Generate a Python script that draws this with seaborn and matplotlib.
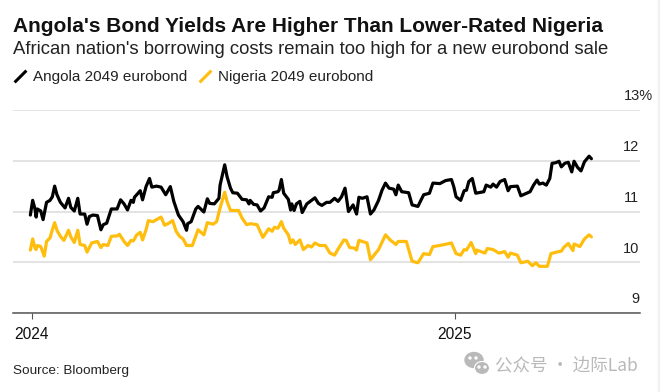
import matplotlib
matplotlib.use("Agg")
import matplotlib.pyplot as plt
from matplotlib.lines import Line2D
from matplotlib.patches import Ellipse, Rectangle
import seaborn as sns
import pandas as pd

# Dias contados a partir de 2024-01-01 e yields
angola_dias = [-1, 1, 3, 4, 5, 8, 10, 13, 16, 18, 20, 22, 25, 29, 32, 34, 37, 40, 42, 46, 48, 50, 53, 57, 60, 62, 65,
               69, 74, 77, 80, 83, 86, 88, 89, 94, 96, 99, 102, 104, 108, 112, 116, 120, 123, 127, 131, 134, 135, 138,
               142, 144, 149, 152, 154, 158, 162, 163, 167, 169, 172, 174, 178, 182, 186, 188, 189, 192, 195, 198, 201,
               205, 208, 209, 213, 214, 216, 218, 222, 224, 225, 227, 229, 232, 234, 238, 245, 248, 251, 255, 258,
               262, 265, 268, 271, 274, 278, 281, 283, 286, 290, 293, 296, 300, 303, 306, 309, 313, 315, 317, 320,
               326, 329, 334, 339, 344, 347, 353, 358, 363, 365, 367, 371, 374, 376, 378, 381, 384, 391, 393, 397,
               399, 402, 405, 409, 412, 414, 420, 423, 428, 431, 434, 437, 439, 442, 445, 448, 450, 453, 456, 458,
               461, 464, 467, 469, 472, 475, 478, 482, 484]
angola_yield = [10.93, 11.22, 11.05, 10.89, 11.05, 11.01, 10.84, 11.18, 11.22, 11.29, 11.50, 11.33, 11.18, 11.07, 11.26,
                11.08, 11.01, 11.26, 10.95, 10.95, 10.75, 10.90, 10.93, 10.92, 10.64, 10.74, 10.77,
                11.05, 11.05, 11.23, 11.15, 11.03, 11.22, 11.18, 11.28, 11.41, 11.23, 11.49, 11.65, 11.48, 11.50, 11.48,
                11.33, 11.49, 11.20, 10.93, 10.80, 10.63, 10.76, 10.80,
                11.05, 11.10, 10.99, 11.25, 11.16, 11.15, 11.26, 11.52, 11.92, 11.69, 11.46, 11.37, 11.36, 11.24, 11.23,
                11.15, 11.22, 11.14, 11.13, 11.01, 11.07,
                11.29, 11.28, 11.37, 11.39, 11.42, 11.63, 11.36, 11.24, 11.03, 11.15, 11.02, 11.15, 11.20, 10.98, 11.15,
                11.27, 11.16, 11.12, 11.18, 11.18,
                11.26, 11.20, 11.29, 11.46, 11.00, 11.13, 10.95, 11.28, 11.26, 11.29, 10.95, 11.03, 11.22, 11.42, 11.56,
                11.46, 11.44, 11.33, 11.52, 11.39,
                11.37, 11.13, 11.10, 11.33, 11.36, 11.56, 11.55, 11.61, 11.63, 11.49, 11.29, 11.22, 11.41, 11.42, 11.59,
                11.65, 11.36, 11.39, 11.52, 11.48,
                11.54, 11.48, 11.59, 11.63, 11.41, 11.49, 11.50, 11.31, 11.36, 11.39, 11.52, 11.62, 11.54, 11.56, 11.52,
                11.65, 11.95, 11.96, 11.99, 11.88,
                11.95, 11.97, 11.78, 11.99, 11.87, 11.80, 11.98, 12.09, 12.04]

nigeria_dias = [-1, 1, 3, 4, 5, 8, 11, 13, 16, 18, 20, 22, 25, 28, 32, 34, 37, 40, 42, 46, 48, 52, 57, 60, 62, 66,
                69, 74, 76, 80, 83, 86, 88, 91, 94, 96, 99, 101, 105, 112, 115, 118, 122, 125, 128, 131, 134, 139,
                144, 149, 152, 157, 160, 163, 167, 169, 172, 179, 182, 186, 189, 195, 200, 205, 208, 210, 213, 216,
                218, 222, 224, 226, 228, 232, 235, 239, 242, 245, 249, 254, 258,
                262, 265, 270, 272, 275, 279, 281, 283, 290, 293, 300, 306, 310, 315, 317, 324, 329, 334, 339, 344,
                347, 353, 363, 367, 371, 374, 376, 380, 384, 385, 392, 394, 399, 404, 409, 412, 414, 420, 423, 429,
                433, 436, 439, 446, 449, 454, 458, 460, 464, 468, 469, 474, 478, 482, 484]
nigeria_yield = [10.24, 10.46, 10.28, 10.25, 10.33, 10.31, 10.12, 10.41, 10.48, 10.64, 10.78, 10.63, 10.51, 10.43, 10.63,
                 10.50, 10.39, 10.63, 10.35, 10.33, 10.20, 10.38, 10.41, 10.29, 10.35, 10.33,
                 10.51, 10.52, 10.55, 10.41, 10.33, 10.43, 10.42, 10.54, 10.59, 10.44, 10.64, 10.82, 10.80, 10.89, 10.73,
                 10.76, 10.82, 10.61, 10.51, 10.46, 10.33, 10.33,
                 10.64, 10.54, 10.78, 10.75, 10.80, 11.07, 11.38, 11.20, 11.02, 11.02, 10.87, 10.74, 10.76, 10.74, 10.49,
                 10.66, 10.61, 10.69, 10.67, 10.80,
                 10.67, 10.54, 10.38, 10.44, 10.35, 10.44, 10.25, 10.33, 10.30, 10.38, 10.33, 10.33, 10.18,
                 10.14, 10.26, 10.44, 10.43, 10.29, 10.28, 10.24, 10.43, 10.38, 10.05, 10.25, 10.54, 10.44, 10.35, 10.41,
                 10.41, 10.02, 9.99, 10.17, 10.15,
                 10.31, 10.33, 10.38, 10.17, 10.14, 10.25, 10.24, 10.39, 10.17, 10.24, 10.18, 10.27, 10.25, 10.18, 10.21,
                 10.10, 10.18, 10.14, 9.99, 10.02,
                 9.93, 9.99, 9.92, 9.92, 10.17, 10.20, 10.22, 10.29, 10.37, 10.23, 10.36, 10.31, 10.46, 10.54, 10.50]

y_ticks = [9, 10, 11, 12, 13]
y_labels = ["9", "10", "11", "12", "13%"]
x_ticks = ["2024-01-01", "2025-01-01"]
x_labels = ["2024", "2025"]

inicio = pd.Timestamp("2024-01-01")
df_angola = pd.DataFrame({"data": inicio + pd.to_timedelta(angola_dias, unit="D"), "yield": angola_yield})
df_nigeria = pd.DataFrame({"data": inicio + pd.to_timedelta(nigeria_dias, unit="D"), "yield": nigeria_yield})

sns.set_theme(style="white")
plt.rcParams["font.family"] = ["Liberation Sans", "DejaVu Sans"]

PRETO = "#000000"
AMARELO = "#FFBD0D"
W, H = 660, 392

fig = plt.figure(figsize=(W / 100, H / 100), dpi=100)
ax = fig.add_axes([13 / W, 1 - 313 / H, 627 / W, 203 / H])

sns.lineplot(data=df_nigeria, x="data", y="yield", color=AMARELO, lw=2.3, estimator=None, sort=False, ax=ax)
sns.lineplot(data=df_angola, x="data", y="yield", color=PRETO, lw=2.3, estimator=None, sort=False, ax=ax)

ax.set_xlim(inicio - pd.Timedelta(days=16), inicio + pd.Timedelta(days=526))
ax.set_ylim(9, 13)
ax.set_xlabel("")
ax.set_ylabel("")

# Grade e eixos
ax.set_yticks(y_ticks)
ax.set_yticklabels([])
ax.grid(axis="y", color="#e1e1e1", lw=1.3)
ax.set_axisbelow(True)
ax.tick_params(axis="y", length=0)
for lado in ["left", "right", "top"]:
    ax.spines[lado].set_visible(False)
ax.spines["bottom"].set_color("#555555")
ax.spines["bottom"].set_linewidth(1.1)

ax.set_xticks(pd.to_datetime(x_ticks))
ax.set_xticklabels(x_labels, fontsize=11.2, color="#111111")
ax.tick_params(axis="x", length=4, width=0.8, color="#555555", pad=6, bottom=True)

# Rotulos do eixo y ficam acima das linhas, dentro da area do grafico
for valor, rotulo in zip(y_ticks, y_labels):
    x_pos = 1.0208 if "%" in rotulo else 0.9985
    ax.text(x_pos, valor + 0.13, rotulo, transform=ax.get_yaxis_transform(), ha="right", va="bottom",
            fontsize=10.5, color="#222222")

# Titulos
fig.text(13 / W, 1 - 26 / H, "Angola's Bond Yields Are Higher Than Lower-Rated Nigeria", fontsize=15.05,
         fontweight="bold", color="#111111", va="center")
fig.text(13 / W, 1 - 50 / H, "African nation's borrowing costs remain too high for a new eurobond sale", fontsize=13.35,
         color="#222222", va="center")

# Legenda com tracos inclinados
traco = [(-1, -1), (1, 1)]
handles = [Line2D([], [], ls="", marker=traco, ms=8.5, mew=2.2, color=PRETO, label="Angola 2049 eurobond"),
           Line2D([], [], ls="", marker=traco, ms=8.5, mew=2.2, color=AMARELO, label="Nigeria 2049 eurobond")]
fig.legend(handles=handles, loc="center left", bbox_to_anchor=(12 / W, 1 - 77 / H), ncol=2, frameon=False,
           fontsize=11, handlelength=1.0, handletextpad=0.37, columnspacing=0.68, labelcolor="#222222",
           borderpad=0, borderaxespad=0)

fig.text(13 / W, 1 - 371 / H, "Source: Bloomberg", fontsize=9.7, color="#222222", va="center")

# Marca d'agua
CINZA = "#b9b9b9"
fig.add_artist(Ellipse((474 / W, 1 - 360 / H), 18 / W, 15 / H, color=CINZA, transform=fig.transFigure))
fig.add_artist(Ellipse((482 / W, 1 - 368 / H), 15 / W, 13 / H, facecolor=CINZA, edgecolor="white", lw=0.8,
                       transform=fig.transFigure))
for ox, oy in [(470, 358), (476, 358), (479, 367), (485, 367)]:
    fig.add_artist(Ellipse((ox / W, 1 - oy / H), 2 / W, 2 / H, color="white", transform=fig.transFigure))
fig.text(495 / W, 1 - 365 / H, "公众号 · 边际Lab", fontsize=12.6, color=CINZA, va="center",
         family=["Noto Sans CJK SC", "DejaVu Sans"])

# Faixa clara na borda direita
fig.add_artist(Rectangle((658 / W, 0), 2 / W, 1, color="#f1f1f1", transform=fig.transFigure))

fig.savefig("out.png", dpi=100)
